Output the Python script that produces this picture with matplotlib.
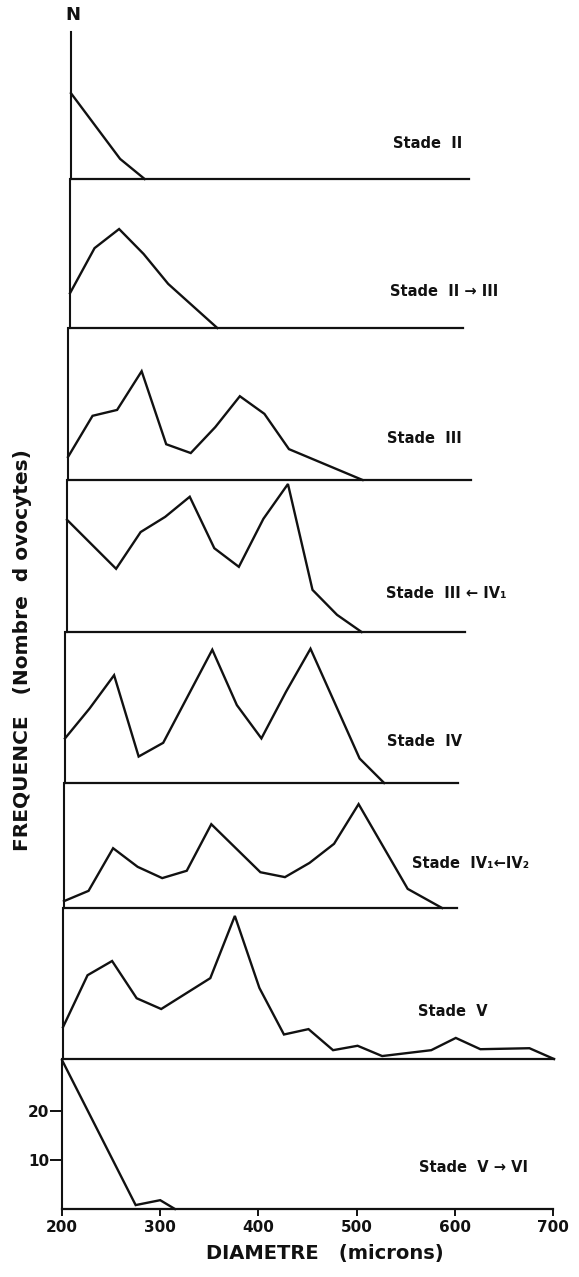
import matplotlib
matplotlib.use("Agg")
import matplotlib.pyplot as plt

# Oocyte diameter classes (microns) and counts for each maturity stage
stade_ii_x = [200, 250, 275]
stade_ii_n = [17.5, 4.1, 0]

stade_ii_iii_x = [200, 225, 250, 275, 300, 350]
stade_ii_iii_n = [7.1, 16.3, 20.2, 15.1, 9.0, 0]

stade_iii_x = [200, 225, 250, 275, 300, 325, 350, 375, 400, 425, 500]
stade_iii_n = [4.7, 13.1, 14.3, 22.2, 7.3, 5.5, 10.8, 17.1, 13.5, 6.3, 0]

stade_iii_iv1_x = [200, 250, 275, 300, 325, 350, 375, 400, 425, 450, 475, 500]
stade_iii_iv1_n = [22.9, 12.9, 20.4, 23.5, 27.6, 17.1, 13.3, 23.1, 30.2, 8.6, 3.5, 0]

stade_iv_x = [200, 225, 250, 275, 300, 350, 375, 400, 425, 450, 500, 525]
stade_iv_n = [9.1, 15.2, 22.0, 5.4, 8.2, 27.2, 15.9, 9.1, 18.6, 27.4, 5.0, 0]

stade_iv1_iv2_x = [200, 225, 250, 275, 300, 325, 350, 375, 400, 425, 450, 475,
                   500, 550, 585]
stade_iv1_iv2_n = [1.4, 3.5, 12.2, 8.4, 6.1, 7.6, 17.1, 12.2, 7.3, 6.3, 9.2, 13.1,
                   21.2, 3.9, 0]

stade_v_x = [200, 225, 250, 275, 300, 350, 375, 400, 425, 450, 475, 500, 525,
             575, 600, 625, 675, 700]
stade_v_n = [6.5, 17.1, 20.0, 12.4, 10.2, 16.5, 29.2, 14.5, 5.0, 6.1, 1.8, 2.7,
             0.6, 1.8, 4.3, 2.0, 2.2, 0]

stade_v_vi_x = [200, 275, 300, 315]
stade_v_vi_n = [30.4, 0.8, 1.8, 0]

stage_labels = ["Stade  II", "Stade  II \u2192 III", "Stade  III",
                "Stade  III \u2190 IV\u2081", "Stade  IV",
                "Stade  IV\u2081\u2190IV\u2082", "Stade  V", "Stade  V \u2192 VI"]

x_ticks = [200, 300, 400, 500, 600, 700]
y_ticks = [10, 20]

series = [
    (stade_ii_x, stade_ii_n),
    (stade_ii_iii_x, stade_ii_iii_n),
    (stade_iii_x, stade_iii_n),
    (stade_iii_iv1_x, stade_iii_iv1_n),
    (stade_iv_x, stade_iv_n),
    (stade_iv1_iv2_x, stade_iv1_iv2_n),
    (stade_v_x, stade_v_n),
    (stade_v_vi_x, stade_v_vi_n),
]

# ---- layout (pixels) ----
W, H = 579, 1277
DPI = 100
panel_tops = [32, 179, 328, 480, 632, 783, 908, 1059]
panel_bases = [179, 328, 480, 632, 783, 908, 1059, 1209]
axis_left = [71, 70, 68, 67, 65, 64, 63, 62]
baseline_end = [605, 600, 610, 605, 600, 600, 700, 700]
label_pos = [(393, 143), (390, 291), (387, 438), (386, 594),
             (387, 742), (412, 863), (418, 1011), (419, 1167)]
PX_PER_UNIT = 4.9          # vertical: pixels per oocyte
PX_PER_MICRON = 0.982      # horizontal
X_MAX = 712

plt.rcParams["font.family"] = ["DejaVu Sans"]
fig = plt.figure(figsize=(W / DPI, H / DPI), dpi=DPI)
fig.patch.set_facecolor("white")

LW = 1.7
ink = "#111111"

for i, (xs, ns) in enumerate(series):
    top, base = panel_tops[i], panel_bases[i]
    left = axis_left[i]
    width_px = (X_MAX - 200) * PX_PER_MICRON
    ax = fig.add_axes([left / W, 1 - base / H, width_px / W, (base - top) / H])
    ax.set_xlim(200, X_MAX)
    ax.set_ylim(0, (base - top) / PX_PER_UNIT)
    ax.patch.set_alpha(0)
    for side in ("top", "right"):
        ax.spines[side].set_visible(False)
    ax.spines["left"].set_linewidth(1.5)
    ax.spines["bottom"].set_linewidth(1.6)
    ax.spines["left"].set_color(ink)
    ax.spines["bottom"].set_color(ink)
    ax.spines["bottom"].set_bounds(200, baseline_end[i])
    ax.plot(xs, ns, color=ink, lw=LW, solid_joinstyle="miter", clip_on=False,
            zorder=3)
    if i < len(series) - 1:
        ax.set_xticks([])
        ax.set_yticks([])
    else:
        ax.set_xticks(x_ticks)
        ax.set_xticklabels([str(t) for t in x_ticks], fontsize=11,
                           fontweight="bold")
        ax.set_yticks(y_ticks)
        ax.set_yticklabels([str(t) for t in y_ticks], fontsize=11,
                           fontweight="bold")
        ax.tick_params(axis="x", direction="out", length=5, width=1.4,
                       pad=3, colors=ink)
        ax.tick_params(axis="y", direction="out", length=9, width=1.4,
                       pad=0, colors=ink)
    lx, ly = label_pos[i]
    fig.text(lx / W, 1 - ly / H, stage_labels[i], fontsize=10.5,
             fontweight="bold", ha="left", va="center", color=ink)

# axis titles
fig.text(73 / W, 1 - 15 / H, "N", fontsize=13, fontweight="bold",
         ha="center", va="center", color=ink)
fig.text(23 / W, 1 - 650 / H, "FREQUENCE   (Nombre  d ovocytes)",
         fontsize=14.5, fontweight="bold", rotation=90, ha="center",
         va="center", color=ink)
fig.text(325 / W, 1 - 1253 / H, "DIAMETRE   (microns)", fontsize=14,
         fontweight="bold", ha="center", va="center", color=ink)

fig.savefig("out.png", dpi=DPI, facecolor="white")
